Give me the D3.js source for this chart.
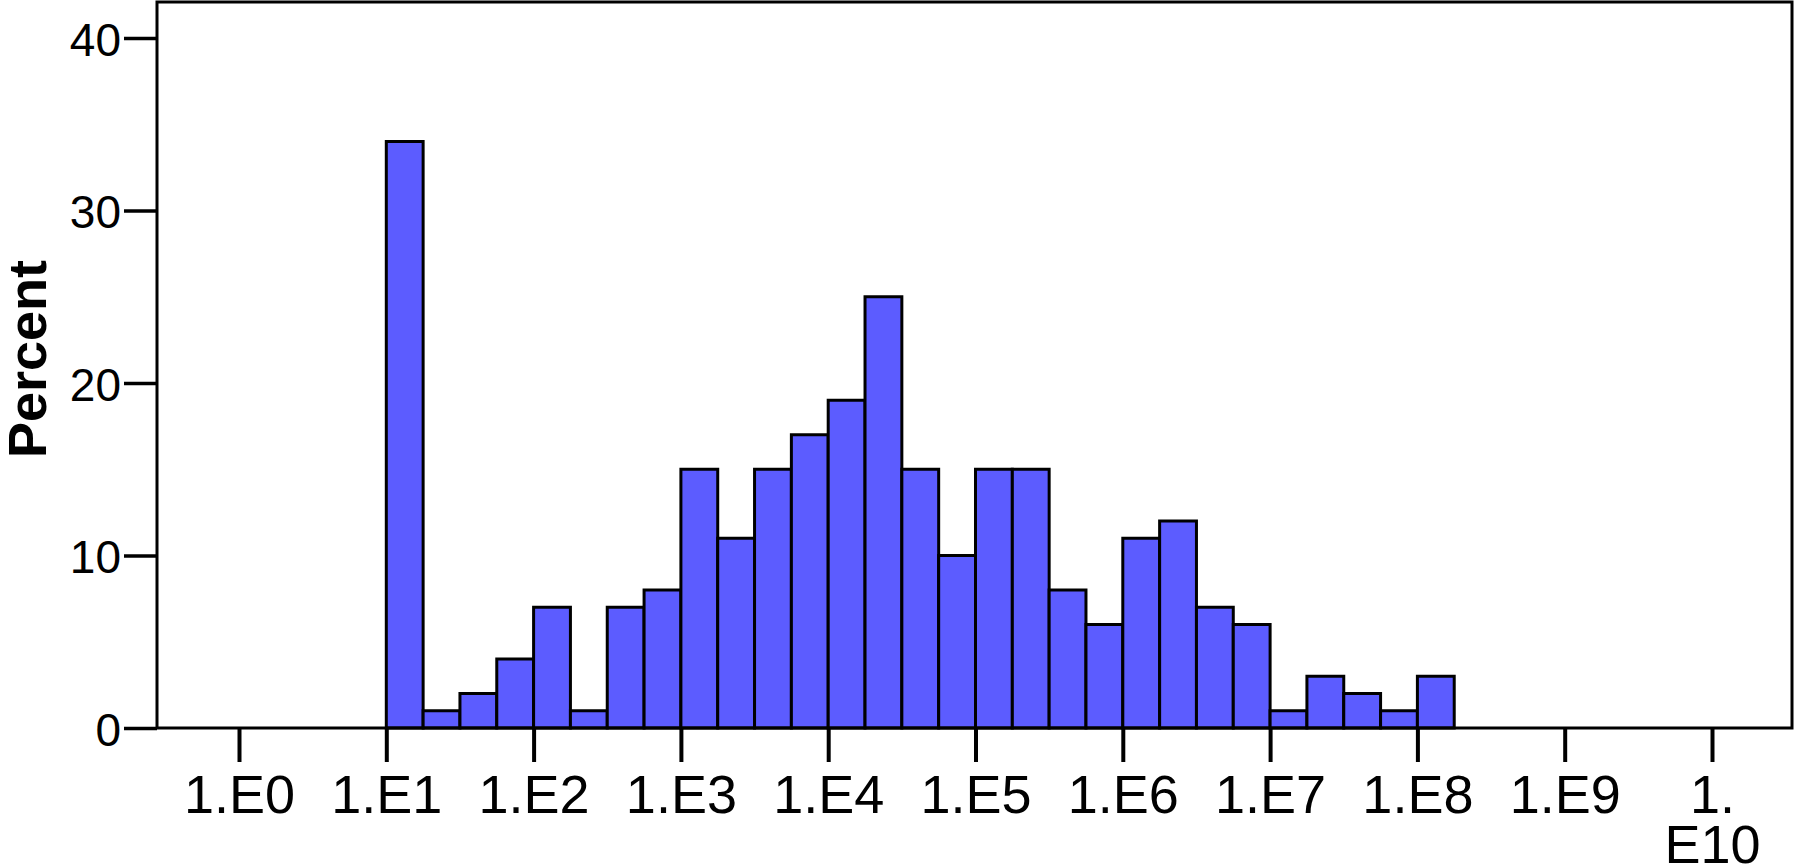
<!DOCTYPE html>
<html>
<head>
<meta charset="utf-8">
<script src="https://cdn.jsdelivr.net/npm/d3@7"></script>
<style>
  html, body { margin: 0; padding: 0; background: #fff; }
  svg { display: block; font-family: "Liberation Sans", Arial, sans-serif; }
</style>
</head>
<body>
<svg id="chart" width="1794" height="868"></svg>
<script>
// Histogram of values on a log10 axis, four bins per decade starting at 1.E1
const binStartExponent = 1;
const binsPerDecade = 4;
const percentValues = [
  34, 1, 2, 4,      // 1.E1 – 1.E2
  7, 1, 7, 8,       // 1.E2 – 1.E3
  15, 11, 15, 17,   // 1.E3 – 1.E4
  19, 25, 15, 10,   // 1.E4 – 1.E5
  15, 15, 8, 6,     // 1.E5 – 1.E6
  11, 12, 7, 6,     // 1.E6 – 1.E7
  1, 3, 2, 1,       // 1.E7 – 1.E8
  3                 // 1.E8 – 1.E8.25
];
const xTickValues = [1e0, 1e1, 1e2, 1e3, 1e4, 1e5, 1e6, 1e7, 1e8, 1e9, 1e10];
const xTickLabels = ["1.E0", "1.E1", "1.E2", "1.E3", "1.E4", "1.E5", "1.E6", "1.E7", "1.E8", "1.E9", "1.\nE10"];
const yTickValues = [0, 10, 20, 30, 40];
const yLabel = "Percent";

const bins = percentValues.map((v, i) => ({
  x0: Math.pow(10, binStartExponent + i / binsPerDecade),
  x1: Math.pow(10, binStartExponent + (i + 1) / binsPerDecade),
  value: v
}));

// plot frame
const frame = { left: 157, right: 1792, top: 2, bottom: 728 };
const svg = d3.select("#chart");

const x = d3.scaleLog().domain([1, 1e10]).range([239, 1712]);
const y = d3.scaleLinear().domain([0, 40]).range([frame.bottom, 38]);

// bars
svg.append("g")
  .selectAll("rect")
  .data(bins)
  .join("rect")
  .attr("x", d => x(d.x0))
  .attr("width", d => x(d.x1) - x(d.x0))
  .attr("y", d => y(d.value))
  .attr("height", d => y(0) - y(d.value))
  .attr("fill", "#5c5cff")
  .attr("stroke", "#000")
  .attr("stroke-width", 3);

// frame around plot area
svg.append("rect")
  .attr("x", frame.left)
  .attr("y", frame.top)
  .attr("width", frame.right - frame.left)
  .attr("height", frame.bottom - frame.top)
  .attr("fill", "none")
  .attr("stroke", "#000")
  .attr("stroke-width", 3);

// y axis
const yAxis = svg.append("g")
  .attr("transform", `translate(${frame.left},0)`)
  .call(d3.axisLeft(y).tickValues(yTickValues).tickSize(33).tickPadding(3).tickFormat(d3.format("d")));
yAxis.select(".domain").remove();
yAxis.selectAll(".tick line").attr("stroke", "#000").attr("stroke-width", 3.5);
yAxis.selectAll(".tick text")
  .attr("fill", "#000")
  .style("font-size", "46px")
  .attr("dy", "0.38em");

// x axis
const xAxis = svg.append("g")
  .attr("transform", `translate(0,${frame.bottom})`)
  .call(d3.axisBottom(x).tickValues(xTickValues).tickSize(34).tickFormat((d, i) => xTickLabels[i]));
xAxis.select(".domain").remove();
xAxis.selectAll(".tick line").attr("stroke", "#000").attr("stroke-width", 4);
xAxis.selectAll(".tick text").each(function (d, i) {
  const t = d3.select(this);
  const lines = xTickLabels[i].split("\n");
  t.text(null)
    .attr("y", 85)
    .attr("dy", 0)
    .attr("fill", "#000")
    .style("font-size", "54px");
  lines.forEach((ln, k) => {
    t.append("tspan").attr("x", 0).attr("dy", k === 0 ? 0 : 50).text(ln);
  });
});

// y axis title
svg.append("text")
  .attr("transform", `translate(46,359) rotate(-90)`)
  .attr("text-anchor", "middle")
  .style("font-size", "54px")
  .style("font-weight", "bold")
  .attr("fill", "#000")
  .text(yLabel);
</script>
</body>
</html>
